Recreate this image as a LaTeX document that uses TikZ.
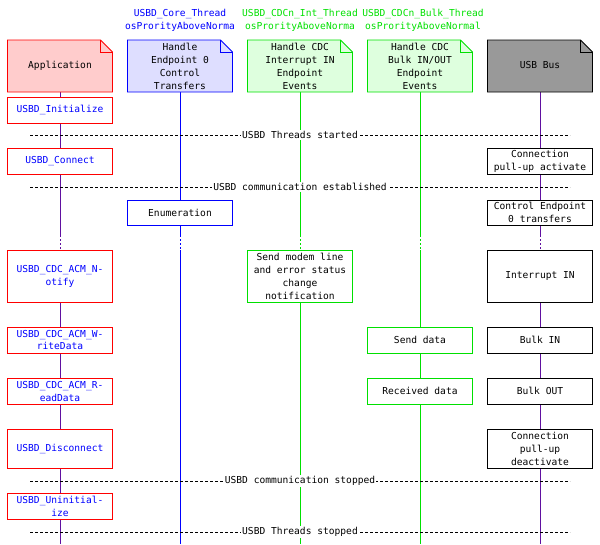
\documentclass[tikz,border=0pt]{standalone}
\usepackage{fontspec}
\setmainfont{DejaVu Sans Mono}
\definecolor{lifeapp}{HTML}{6010A0}
\definecolor{lifegreen}{HTML}{00E000}
\tikzset{
  msgbox/.style={draw, fill=white, thick, minimum width=105pt, align=center,
    inner sep=1pt, font=\fontsize{9.6}{13}\selectfont},
  appbox/.style={msgbox, draw=red, text=blue},
  divider/.style={densely dashed, black},
  divlabel/.style={fill=white, inner sep=1pt, font=\fontsize{9.6}{11}\selectfont},
  hdr/.style={font=\fontsize{9.6}{13}\selectfont, align=center}
}
\newcommand{\notebox}[6]{% x, draw, fill, name, text
  \draw[thick, draw=#2, fill=#3] (#1-52.5,40) -- (#1+40.5,40) -- (#1+52.5,52) -- (#1+52.5,92) -- (#1-52.5,92) -- cycle;
  \draw[thick, draw=#2] (#1+40.5,40) -- (#1+40.5,52) -- (#1+52.5,52);
  \node[hdr, anchor=north] (#4) at (#1,#6) {#5};
}
\begin{document}
\begin{tikzpicture}[x=1pt, y=-1pt]
  \useasboundingbox (0,0) rectangle (600,544);
  % lifelines
  \foreach \lx/\lc in {60/lifeapp, 180/blue, 300/lifegreen, 420/lifegreen, 540/lifeapp} {
    \draw[\lc] (\lx,92) -- (\lx,235);
    \draw[\lc, dash pattern=on 2pt off 2pt] (\lx,235) -- (\lx,250);
    \draw[\lc] (\lx,250) -- (\lx,544);
  }
  % thread names
  \node[hdr, text=blue] (corethr) at (180,20.5) {USBD\_Core\_Thread\\osProrityAboveNorma};
  \node[hdr, text=lifegreen] (intthr) at (300,20.5) {USBD\_CDCn\_Int\_Thread\\osProrityAboveNorma};
  \node[hdr, text=lifegreen] (bulkthr) at (423,20.5) {USBD\_CDCn\_Bulk\_Thread\\osProrityAboveNormal};
  % headers
  \notebox{60}{red}{red!20}{app}{Application}{58}
  \notebox{180}{blue}{blue!13}{core}{Handle\\Endpoint 0\\Control\\Transfers}{40}
  \notebox{300}{lifegreen}{green!13}{cdcint}{Handle CDC\\Interrupt IN\\Endpoint\\Events}{40}
  \notebox{420}{lifegreen}{green!13}{cdcbulk}{Handle CDC\\Bulk IN/OUT\\Endpoint\\Events}{40}
  \notebox{540}{black}{black!40}{usb}{USB Bus}{58}
  % dividers
  \foreach \dy/\dn/\dt in {135/dstart/USBD Threads started, 187/destab/USBD communication established,
      481/dstop/USBD communication stopped, 532/dthr/USBD Threads stopped} {
    \coordinate (\dn-l) at (30,\dy);
    \coordinate (\dn-r) at (570,\dy);
    \draw[divider] (\dn-l) -- (\dn-r);
    \node[divlabel] (\dn) at (300,\dy) {\dt};
  }
  % application calls
  \node[appbox, minimum height=26pt] (init) at (60,110) {USBD\_Initialize};
  \node[appbox, minimum height=26pt] (connect) at (60,161) {USBD\_Connect};
  \node[appbox, minimum height=52pt] (notify) at (60,276) {USBD\_CDC\_ACM\_N-\\otify};
  \node[appbox, minimum height=26pt] (write) at (60,340) {USBD\_CDC\_ACM\_W-\\riteData};
  \node[appbox, minimum height=26pt] (read) at (60,391) {USBD\_CDC\_ACM\_R-\\eadData};
  \node[appbox, minimum height=39pt] (disc) at (60,448.5) {USBD\_Disconnect};
  \node[appbox, minimum height=26pt] (uninit) at (60,506) {USBD\_Uninitial-\\ize};
  % thread actions
  \node[msgbox, draw=blue, minimum height=25pt] (enum) at (180,212.5) {Enumeration};
  \node[msgbox, draw=lifegreen, minimum height=52pt] (modem) at (300,276) {Send modem line\\and error status\\change\\notification};
  \node[msgbox, draw=lifegreen, minimum height=26pt] (send) at (420,340) {Send data};
  \node[msgbox, draw=lifegreen, minimum height=26pt] (recv) at (420,391) {Received data};
  % bus events
  \node[msgbox, minimum height=26pt] (pullup) at (540,161) {Connection\\pull-up activate};
  \node[msgbox, minimum height=25pt] (ctrl) at (540,212.5) {Control Endpoint\\0 transfers};
  \node[msgbox, minimum height=52pt] (intin) at (540,276) {Interrupt IN};
  \node[msgbox, minimum height=26pt] (bulkin) at (540,340) {Bulk IN};
  \node[msgbox, minimum height=26pt] (bulkout) at (540,391) {Bulk OUT};
  \node[msgbox, minimum height=39pt] (pulldn) at (540,448.5) {Connection\\pull-up\\deactivate};
\end{tikzpicture}
\end{document}
